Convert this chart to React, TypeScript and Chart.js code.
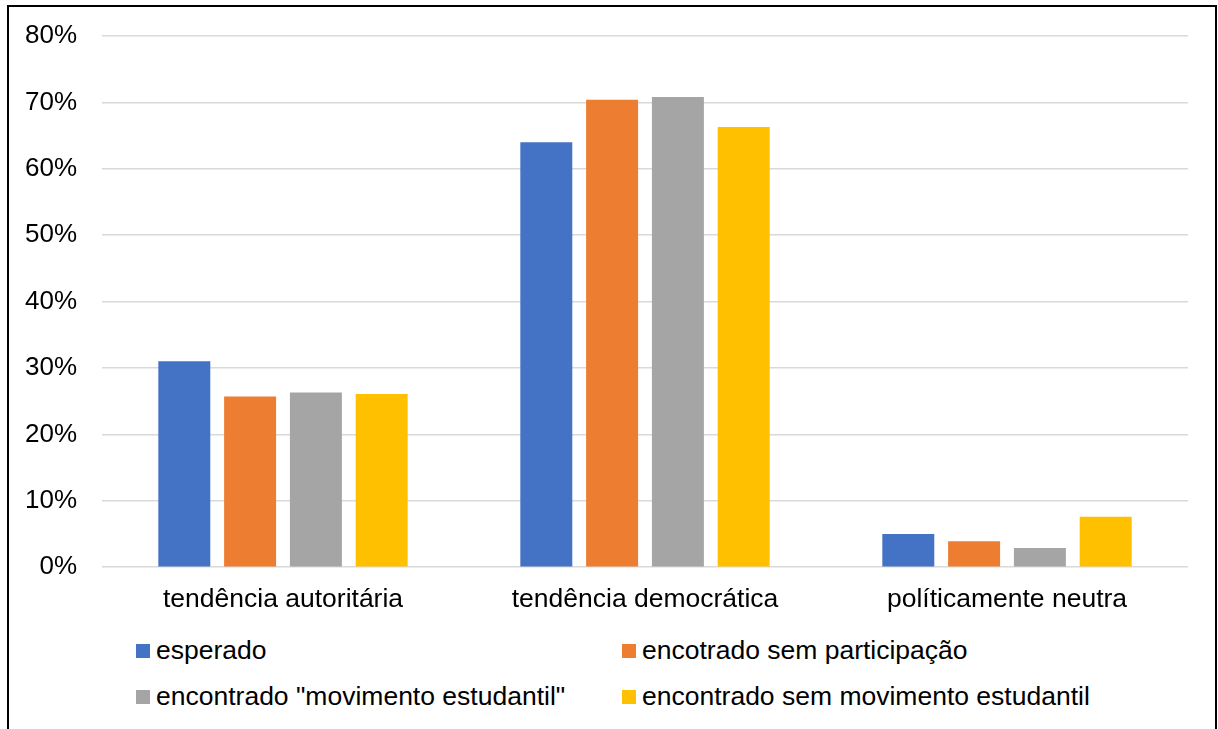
import React, { useEffect, useRef } from "react";
import { Chart, registerables } from "chart.js";

Chart.register(...registerables);

const categories = ["tendência autoritária", "tendência democrática", "políticamente neutra"];
const seriesNames = [
  "esperado",
  "encotrado sem participação",
  "encontrado \"movimento estudantil\"",
  "encontrado sem movimento estudantil",
];
const esperado = [31.0, 64.0, 5.0];
const semParticipacao = [25.7, 70.4, 3.9];
const movimentoEstudantil = [26.3, 70.8, 2.9];
const semMovimento = [26.1, 66.3, 7.6];
const seriesColors = ["#4472C4", "#ED7D31", "#A5A5A5", "#FFC000"];
const yTicks = [0, 10, 20, 30, 40, 50, 60, 70, 80];

const FONT = "'Liberation Sans', Arial, sans-serif";

export default function App() {
  const canvasRef = useRef<HTMLCanvasElement | null>(null);

  useEffect(() => {
    const canvas = canvasRef.current;
    if (!canvas) return;
    const values = [esperado, semParticipacao, movimentoEstudantil, semMovimento];
    const chart = new Chart(canvas, {
      type: "bar",
      data: {
        labels: categories,
        datasets: values.map((v, i) => ({
          label: seriesNames[i],
          data: v,
          backgroundColor: seriesColors[i],
          borderWidth: 0,
          categoryPercentage: 0.727,
          barPercentage: 0.79,
        })),
      },
      options: {
        animation: false,
        responsive: false,
        maintainAspectRatio: false,
        layout: { padding: { left: 0, right: 30, top: 36, bottom: 0 } },
        plugins: {
          legend: { display: false },
          tooltip: { enabled: false },
          title: { display: false },
        },
        scales: {
          x: {
            grid: { display: false, drawTicks: false },
            border: { display: false },
            ticks: {
              color: "#000000",
              font: { family: FONT, size: 26.5 },
              padding: 17,
              maxRotation: 0,
            },
          },
          y: {
            min: 0,
            max: 80,
            afterFit: (scale: any) => {
              // fixed axis width; the tick padding should not push the plot area down
              scale.width = 102;
              scale.paddingTop = 0;
              scale.paddingBottom = 0;
            },
            afterBuildTicks: (scale: any) => {
              scale.ticks = yTicks.map((v) => ({ value: v }));
            },
            grid: { color: "#D9D9D9", lineWidth: 1.5, drawTicks: false },
            border: { display: false },
            ticks: {
              color: "#000000",
              font: { family: FONT, size: 26 },
              padding: 25,
              callback: (v: any) => `${v}%`,
            },
          },
        },
      },
    });
    return () => chart.destroy();
  }, []);

  const legendRows = [
    [0, 1],
    [2, 3],
  ];

  return (
    <div
      style={{
        position: "absolute",
        left: 0,
        top: 0,
        width: 1218,
        height: 729,
        overflow: "hidden",
        background: "#ffffff",
        fontFamily: FONT,
      }}
    >
      <div
        style={{
          position: "absolute",
          left: 7,
          top: 5,
          width: 1210,
          height: 760,
          border: "2px solid #000000",
          boxSizing: "border-box",
        }}
      />
      <canvas
        ref={canvasRef}
        width={1218}
        height={633}
        style={{ position: "absolute", left: 0, top: 0, width: 1218, height: 633 }}
      />
      {legendRows.map((row, r) => (
        <div
          key={r}
          style={{ position: "absolute", top: 635 + r * 46, left: 0, width: 1218, height: 30 }}
        >
          {row.map((idx, c) => (
            <div
              key={idx}
              style={{
                position: "absolute",
                left: c === 0 ? 136 : 622,
                top: 0,
                height: 30,
                display: "flex",
                alignItems: "center",
                whiteSpace: "nowrap",
              }}
            >
              <span
                style={{
                  display: "inline-block",
                  width: 14,
                  height: 14,
                  background: seriesColors[idx],
                  marginRight: 6,
                  marginTop: 2,
                }}
              />
              <span style={{ fontSize: 26.5, lineHeight: "30px", color: "#000000" }}>
                {seriesNames[idx]}
              </span>
            </div>
          ))}
        </div>
      ))}
    </div>
  );
}
